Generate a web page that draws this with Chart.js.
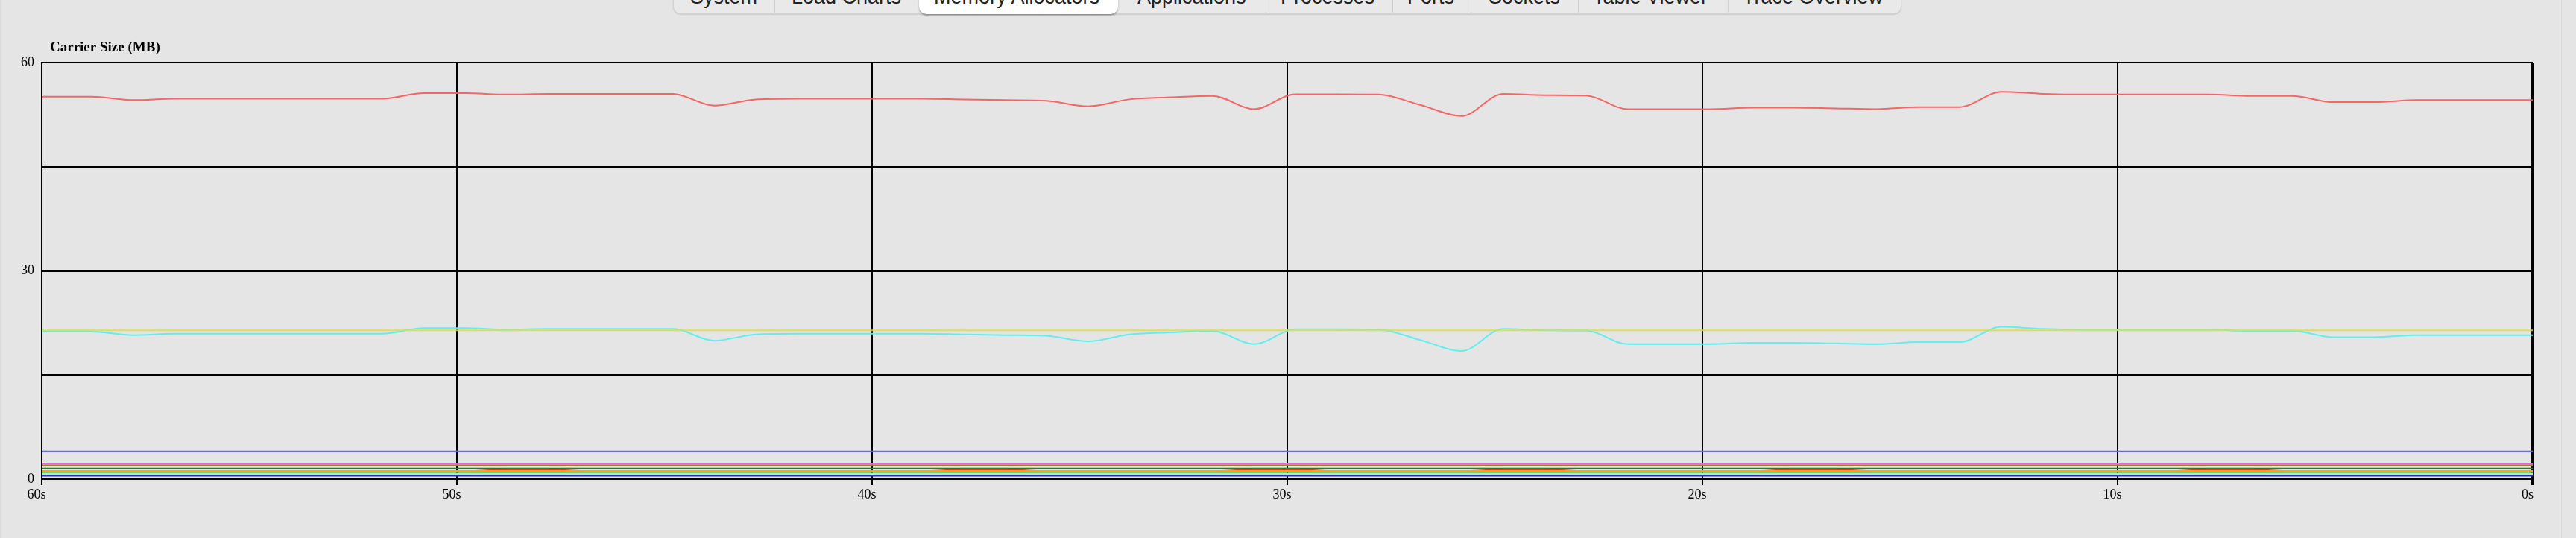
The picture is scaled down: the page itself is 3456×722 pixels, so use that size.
<!DOCTYPE html>
<html>
<head>
<meta charset="utf-8">
<script src="https://cdn.jsdelivr.net/npm/chart.js@4"></script>
<style>
html,body{margin:0;padding:0;background:#e5e5e5;width:3456px;height:722px;overflow:hidden;}
#panel{position:absolute;left:0;top:0;width:3437px;height:722px;box-sizing:border-box;border-left:2px solid #dcdcdc;border-right:1px solid #d8d8d8;}
canvas{position:absolute;left:0;top:0;}
.bar{position:absolute;left:903px;top:-31px;width:1648px;height:50px;background:#e9e9e9;border:1px solid #d2d2d2;border-top:none;border-radius:0 0 10px 10px;box-shadow:0 1px 2px rgba(0,0,0,0.12);box-sizing:border-box;}
.active{position:absolute;left:1233px;top:-31px;width:267px;height:50px;background:#ffffff;border-radius:0 0 10px 10px;box-shadow:0 2px 2px rgba(0,0,0,0.3);}
.tab{position:absolute;top:-17px;font:27px/27px "Liberation Sans",Arial,sans-serif;color:#222;white-space:nowrap;}
.sep{position:absolute;top:0;width:1px;height:17px;background:#cfcfcf;}
</style>
</head>
<body>
<div id="panel"></div>
<div class="bar"></div>
<div class="active"></div>
<span class="tab" style="left:926px">System</span>
<div class="sep" style="left:1039px"></div>
<span class="tab" style="left:1062px">Load Charts</span>
<span class="tab" style="left:1253px">Memory Allocators</span>
<span class="tab" style="left:1526px">Applications</span>
<div class="sep" style="left:1698px"></div>
<span class="tab" style="left:1718px">Processes</span>
<div class="sep" style="left:1868px"></div>
<span class="tab" style="left:1888px">Ports</span>
<div class="sep" style="left:1973px"></div>
<span class="tab" style="left:1997px">Sockets</span>
<div class="sep" style="left:2117px"></div>
<span class="tab" style="left:2137px">Table Viewer</span>
<div class="sep" style="left:2318px"></div>
<span class="tab" style="left:2338px">Trace Overview</span>
<canvas id="c" width="3456" height="722"></canvas>
<script>
// ---- data ----
const chartTitle = 'Carrier Size (MB)';
const secondsAgo = [60.8,59.8,58.8,57.8,56.8,55.8,54.8,53.8,52.8,51.8,
  50.8,49.8,48.8,47.8,46.8,45.8,44.8,43.8,42.8,41.8,
  40.8,39.8,38.8,37.8,36.8,35.8,34.8,33.8,32.8,31.8,
  30.8,29.8,28.8,27.8,26.8,25.8,24.8,23.8,22.8,21.8,
  20.8,19.8,18.8,17.8,16.8,15.8,14.8,13.8,12.8,11.8,
  10.8,9.8,8.8,7.8,6.8,5.8,4.8,3.8,2.8,1.8,
  0.8,-0.2];
const xTickValues = [60,50,40,30,20,10,0];
const yTickLabelValues = [60,30,0];

const redSeries = [55.1,55.1,55.1,54.6,54.8,54.8,54.8,54.8,54.8,54.8,
  55.6,55.6,55.4,55.5,55.5,55.5,55.5,53.8,54.7,54.8,
  54.8,54.8,54.8,54.7,54.6,54.5,53.7,54.7,55.0,55.2,
  53.3,55.45,55.45,55.4,53.9,52.3,55.5,55.3,55.25,53.3,
  53.3,53.3,53.5,53.5,53.4,53.3,53.6,53.6,55.8,55.5,
  55.4,55.4,55.4,55.4,55.2,55.2,54.3,54.3,54.6,54.6,
  54.6,54.6];
const cyanSeries = [21.25,21.25,21.25,20.75,20.95,20.95,20.95,20.95,20.95,20.95,
  21.75,21.75,21.55,21.65,21.65,21.65,21.65,19.95,20.85,20.95,
  20.95,20.95,20.95,20.85,20.75,20.65,19.85,20.85,21.15,21.35,
  19.45,21.6,21.6,21.55,20.05,18.45,21.65,21.45,21.4,19.45,
  19.45,19.45,19.65,19.65,19.55,19.45,19.75,19.75,21.95,21.65,
  21.55,21.55,21.55,21.55,21.35,21.35,20.45,20.45,20.75,20.75,
  20.75,20.75];
const yellowSeries = [21.43,21.43,21.43,21.43,21.43,21.43,21.43,21.43,21.43,21.43,
  21.43,21.43,21.43,21.43,21.43,21.43,21.43,21.43,21.43,21.43,
  21.43,21.43,21.43,21.43,21.43,21.43,21.43,21.43,21.43,21.43,
  21.43,21.43,21.43,21.43,21.43,21.43,21.43,21.43,21.43,21.43,
  21.43,21.43,21.43,21.43,21.43,21.43,21.43,21.43,21.43,21.43,
  21.43,21.43,21.43,21.43,21.43,21.43,21.43,21.43,21.43,21.43,
  21.43,21.43];
const blueSeries = [4,4,4,4,4,4,4,4,4,4, 4,4,4,4,4,4,4,4,4,4, 4,4,4,4,4,4,4,4,4,4,
  4,4,4,4,4,4,4,4,4,4, 4,4,4,4,4,4,4,4,4,4, 4,4,4,4,4,4,4,4,4,4, 4,4];
const magentaSeries = [2.18,2.18,2.18,2.18,2.18,2.18,2.18,2.18,2.18,2.18,
  2.18,2.18,2.18,2.18,2.18,2.18,2.18,2.18,2.18,2.18,
  2.18,2.18,2.18,2.18,2.18,2.18,2.18,2.18,2.18,2.18,
  2.18,2.18,2.18,2.18,2.18,2.18,2.18,2.18,2.18,2.18,
  2.18,2.18,2.18,2.18,2.18,2.18,2.18,2.18,2.18,2.18,
  2.18,2.18,2.18,2.18,2.18,2.18,2.18,2.18,2.18,2.18,
  2.18,2.18];
const oliveSeries = [1.98,1.98,1.98,1.98,1.98,1.98,1.98,1.98,1.98,1.98,
  1.98,1.98,1.98,1.98,1.98,1.98,1.98,1.98,1.98,1.98,
  1.98,1.98,1.98,1.98,1.98,1.98,1.98,1.98,1.98,1.98,
  1.98,1.98,1.98,1.98,1.98,1.98,1.98,1.98,1.98,1.98,
  1.98,1.98,1.98,1.98,1.98,1.98,1.98,1.98,1.98,1.98,
  1.98,1.98,1.98,1.98,1.98,1.98,1.98,1.98,1.98,1.98,
  1.98,1.98];
const darkGreenSeries = [1.52,1.52,1.52,1.52,1.52,1.52,1.52,1.52,1.52,1.52,
  1.52,1.52,1.52,1.52,1.52,1.52,1.52,1.52,1.52,1.52,
  1.52,1.52,1.52,1.52,1.52,1.52,1.52,1.52,1.52,1.52,
  1.52,1.52,1.52,1.52,1.52,1.52,1.52,1.52,1.52,1.52,
  1.52,1.52,1.52,1.52,1.52,1.52,1.52,1.52,1.52,1.52,
  1.52,1.52,1.52,1.52,1.52,1.52,1.52,1.52,1.52,1.52,
  1.52,1.52];
const orangeSeries = [1.16,1.16,1.16,1.16,1.16,1.16,1.16,1.16,1.16,1.16,
  1.16,1.16,1.16,1.16,1.16,1.16,1.16,1.16,1.16,1.16,
  1.16,1.16,1.16,1.16,1.16,1.16,1.16,1.16,1.16,1.16,
  1.16,1.16,1.16,1.16,1.16,1.16,1.16,1.16,1.16,1.16,
  1.16,1.16,1.16,1.16,1.16,1.16,1.16,1.16,1.16,1.16,
  1.16,1.16,1.16,1.16,1.16,1.16,1.16,1.16,1.16,1.16,
  1.16,1.16];
const brownRedSeries = [1.16,1.16,1.16,1.16,1.16,1.16,1.16,1.16,1.16,1.16,
  1.16,1.16,1.36,1.36,1.16,1.16,1.16,1.16,1.16,1.16,
  1.16,1.16,1.16,1.36,1.36,1.16,1.16,1.16,1.16,1.16,
  1.36,1.36,1.16,1.16,1.16,1.16,1.36,1.36,1.16,1.16,
  1.16,1.16,1.16,1.36,1.36,1.16,1.16,1.16,1.16,1.16,
  1.16,1.16,1.16,1.36,1.36,1.16,1.16,1.16,1.16,1.16,
  1.16,1.16];
const greenSeries = [1.0,1.0,1.0,1.0,1.0,1.0,1.0,1.0,1.0,1.0,
  1.0,1.0,1.0,1.0,1.0,1.0,1.0,1.0,1.0,1.0,
  1.0,1.0,1.0,1.0,1.0,1.0,1.0,1.0,1.0,1.0,
  1.0,1.0,1.0,1.0,1.0,1.0,1.0,1.0,1.0,1.0,
  1.0,1.0,1.0,1.0,1.0,1.0,1.0,1.0,1.0,1.0,
  1.0,1.0,1.0,1.0,1.0,1.0,1.0,1.0,1.0,1.0,
  1.0,1.0];
const lightBlueSeries = [0.75,0.75,0.75,0.75,0.75,0.75,0.75,0.75,0.75,0.75,
  0.75,0.75,0.75,0.75,0.75,0.75,0.75,0.75,0.75,0.75,
  0.75,0.75,0.75,0.75,0.75,0.75,0.75,0.75,0.75,0.75,
  0.75,0.75,0.75,0.75,0.75,0.75,0.75,0.75,0.75,0.75,
  0.75,0.75,0.75,0.75,0.75,0.75,0.75,0.75,0.75,0.75,
  0.75,0.75,0.75,0.75,0.75,0.75,0.75,0.75,0.75,0.75,
  0.75,0.75];
const darkBlueSeries = [0.47,0.47,0.47,0.47,0.47,0.47,0.47,0.47,0.47,0.47,
  0.47,0.47,0.47,0.47,0.47,0.47,0.47,0.47,0.47,0.47,
  0.47,0.47,0.47,0.47,0.47,0.47,0.47,0.47,0.47,0.47,
  0.47,0.47,0.47,0.47,0.47,0.47,0.47,0.47,0.47,0.47,
  0.47,0.47,0.47,0.47,0.47,0.47,0.47,0.47,0.47,0.47,
  0.47,0.47,0.47,0.47,0.47,0.47,0.47,0.47,0.47,0.47,
  0.47,0.47];

// ---- chart ----
const serif = '"Liberation Serif","Times New Roman",Times,serif';
function pts(arr){ return secondsAgo.map((t,i)=>({x:t,y:arr[i]})); }
function ds(label, arr, color, width){
  return {label, data: pts(arr), borderColor: color, backgroundColor: color,
    borderWidth: width || 2, pointRadius: 0, fill: false,
    cubicInterpolationMode: 'monotone'};
}

const leftTitle = {
  id: 'leftTitle',
  afterDraw(chart){
    const c = chart.ctx, a = chart.chartArea;
    c.save();
    c.font = 'bold 19px ' + serif;
    c.fillStyle = '#000';
    c.textAlign = 'left';
    c.textBaseline = 'alphabetic';
    c.fillText(chartTitle, a.left + 11, a.top - 15);
    c.restore();
  }
};

new Chart(document.getElementById('c'), {
  type: 'line',
  data: {
    datasets: [
      ds('red', redSeries, 'rgba(245,95,95,0.95)'),
      ds('yellow', yellowSeries, 'rgba(222,222,60,0.85)'),
      ds('cyan', cyanSeries, 'rgba(90,238,238,0.95)'),
      ds('blue', blueSeries, '#6868ee'),
      ds('magenta', magentaSeries, '#e864e8'),
      ds('olive', oliveSeries, '#9a8a00'),
      ds('darkgreen', darkGreenSeries, '#2a7a2a'),
      ds('orange', orangeSeries, '#ffa500', 2.5),
      ds('brownred', brownRedSeries, '#d2401a'),
      ds('green', greenSeries, '#2fd070'),
      ds('lightblue', lightBlueSeries, '#bcdcee'),
      ds('darkblue', darkBlueSeries, '#2a34a8')
    ]
  },
  options: {
    responsive: false,
    animation: false,
    devicePixelRatio: 1,
    layout: { padding: { left: 0, right: 58, top: 84, bottom: 39 } },
    plugins: { legend: { display: false }, tooltip: { enabled: false }, title: { display: false } },
    scales: {
      x: {
        type: 'linear', reverse: true, min: 0, max: 60,
        afterBuildTicks: s => { s.ticks = xTickValues.map(v => ({value: v})); },
        afterFit: s => { s.height = 40; },
        ticks: { callback: v => v + 's', color: '#000', font: { family: serif, size: 18 }, padding: 2, labelOffset: -7, maxRotation: 0, autoSkip: false },
        grid: { color: '#000', tickColor: '#000', tickLength: 8, lineWidth: c => (c.tick && c.tick.value === 0) ? 4 : 2 },
        border: { color: '#000', width: 2 }
      },
      y: {
        min: 0, max: 60,
        afterFit: s => { s.width = 56; },
        ticks: { stepSize: 15, color: '#000', font: { family: serif, size: 18 }, padding: 10,
          callback: v => yTickLabelValues.includes(v) ? String(v) : '' },
        grid: { color: '#000', lineWidth: 2, drawTicks: false },
        border: { color: '#000', width: 2 }
      }
    }
  },
  plugins: [leftTitle]
});
</script>
</body>
</html>
